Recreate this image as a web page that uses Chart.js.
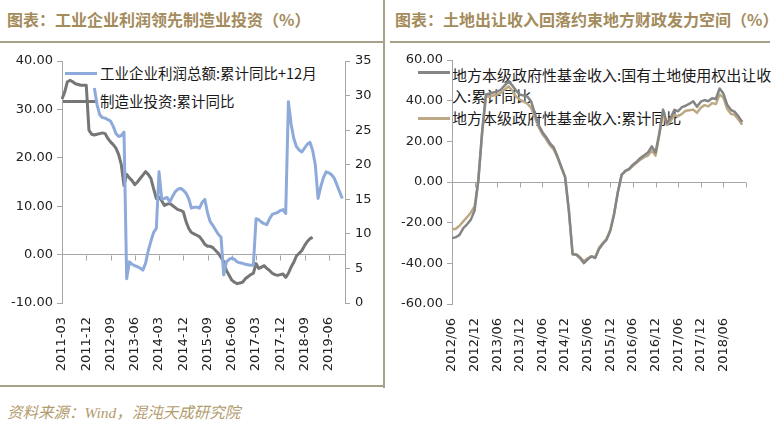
<!DOCTYPE html>
<html>
<head>
<meta charset="utf-8">
<script src="https://cdn.jsdelivr.net/npm/chart.js@4.4.1/dist/chart.umd.min.js"></script>
<style>
  body { margin: 0; background: #fff; width: 774px; height: 426px; overflow: hidden; position: relative;
         font-family: "Noto Sans CJK SC", sans-serif; }
  .title { position: absolute; top: 7px; font-weight: bold; font-size: 16px; color: #a48b5c; white-space: nowrap; }
  .rule { position: absolute; background: #a9a08a; z-index: 3; }
  .legend { position: absolute; color: #1a1a1a; white-space: nowrap; line-height: 1; z-index: 0; }
  .swatch { position: absolute; height: 3px; z-index: 0; }
  .box { position: absolute; z-index: 1; }
  #source { position: absolute; left: 7px; top: 400px; font-size: 15.5px; font-style: italic; color: #b39c6d;
            font-family: "Liberation Serif", "Noto Sans CJK SC", serif; white-space: nowrap; }
</style>
</head>
<body>
<div class="title" style="left:7px">图表：工业企业利润领先制造业投资（%）</div>
<div class="title" style="left:395px">图表：土地出让收入回落约束地方财政发力空间（%）</div>

<div class="rule" style="left:0;top:41px;width:384px;height:2px"></div>
<div class="rule" style="left:390px;top:41px;width:380px;height:2px"></div>
<div class="rule" style="left:383px;top:0;width:2px;height:388px"></div>
<div class="rule" style="left:0;top:385px;width:384px;height:2px"></div>

<div class="swatch" style="left:65px;top:72px;width:32px;background:#8eaadb"></div>
<div class="legend" style="left:100px;top:66px;font-size:14.5px">工业企业利润总额:累计同比+12月</div>
<div class="swatch" style="left:63px;top:100px;width:34px;background:#767676"></div>
<div class="legend" style="left:100px;top:94px;font-size:14.5px">制造业投资:累计同比</div>

<div class="swatch" style="left:418px;top:71px;width:32px;background:#858585"></div>
<div class="legend" style="left:452px;top:64px;font-size:15px;line-height:21px">地方本级政府性基金收入:国有土地使用权出让收<br>入:累计同比</div>
<div class="swatch" style="left:418px;top:117px;width:32px;background:#bca883"></div>
<div class="legend" style="left:452px;top:110px;font-size:15px">地方本级政府性基金收入:累计同比</div>

<div class="box" style="left:0;top:42px;width:384px;height:344px"><canvas id="left" width="384" height="344"></canvas></div>
<div class="box" style="left:385px;top:42px;width:389px;height:344px"><canvas id="right" width="389" height="344"></canvas></div>

<div id="source">资料来源：Wind，混沌天成研究院</div>

<script>
// ---- left chart: monthly 2011-03 .. 2019-12
const leftMonths = [];
for (let y = 2011; y <= 2019; y++) {
  for (let m = 1; m <= 12; m++) {
    if (y === 2011 && m < 3) continue;
    leftMonths.push(y + '-' + String(m).padStart(2, '0'));
  }
}

// 工业企业利润总额:累计同比 shifted +12 months (left axis), 2012-03 .. 2019-11
const profitShifted = [
  null, null, null, null, null, null, null, null, null, null, null, null,
  34.4, 31.0, 28.9, 28.3, 28.2, 27.9, 27.6, 26.5, 25.0, 24.4, 24.6, 25.3,
  -5.0, -1.5, -2.0, -2.3, -2.5, -2.8, -3.2, -1.8, 0.8, 2.8, 4.6, 5.4,
  17.1, 11.5, 11.6, 11.8, 10.9, 12.0, 13.0, 13.5, 13.7, 13.3, 12.7, 11.6,
  9.6, 9.8, 9.8, 9.6, 10.8, 11.4, 8.6, 6.8, 6.0, 5.1, 4.2, 3.6,
  -4.2, -1.5, -1.0, -0.7, -1.0, -1.5, -1.7, -1.8, -2.0, -2.1, -2.2, -2.2,
  7.4, 7.2, 6.7, 6.4, 6.2, 7.4, 8.3, 8.5, 8.7, 9.1, 9.3, 8.5,
  31.6, 27.0, 24.0, 22.3, 21.6, 21.2, 22.0, 22.8, 23.2, 21.5, 18.5, 11.6,
  14.0, 15.9, 17.1, 16.9, 16.5, 15.8, 14.4, 13.0, 11.6, null
];

// 制造业投资:累计同比 (right axis), 2011-03 .. 2018-12
const mfgInvest = [
  29.5, 30.5, 32.0, 32.2, 32.0, 31.7, 31.6, 31.5, 31.5, 31.5,
  25.0, 24.4, 24.3, 24.4, 24.5, 24.6, 24.5, 23.8, 23.3, 22.9, 22.4, 21.5,
  20.0, 17.0, 18.6, 18.1, 17.7, 17.1, 17.5, 18.0, 18.5, 19.0, 18.6, 18.0,
  16.5, 15.1, 15.3, 14.8, 14.1, 14.3, 14.4, 14.1, 13.8, 13.5, 13.4, 13.2,
  11.8, 10.8, 10.2, 10.0, 9.8, 9.6, 9.1, 8.5, 8.2, 8.2, 8.0, 7.6,
  7.2, 6.6, 6.0, 4.7, 4.0, 3.3, 3.0, 2.8, 2.9, 3.0, 3.5, 3.8,
  4.1, 4.3, 5.7, 5.0, 5.2, 5.4, 5.0, 4.7, 4.3, 4.1, 4.0, 4.1,
  4.2, 3.7, 4.3, 5.2, 5.9, 6.8, 7.2, 7.6, 8.3, 8.9, 9.3, 9.5
];

// ---- right chart: monthly 2012/06 .. 2018/12
const rightMonths = [];
for (let y = 2012; y <= 2018; y++) {
  for (let m = 1; m <= 12; m++) {
    if (y === 2012 && m < 6) continue;
    rightMonths.push(y + '/' + String(m).padStart(2, '0'));
  }
}

// 地方本级政府性基金收入:国有土地使用权出让收入:累计同比
const landSales = [
  -27.6, -27.2, -26.0, -22.7, -20.8, -18.5, -14.0, 1.0, 25.0, 43.0, 43.5, 44.0,
  44.5, 45.5, 47.5, 49.5, 47.5, 45.0, 43.0, 42.5, 42.0, 39.6, 33.5, 28.0,
  24.5, 22.0, 19.0, 17.0, 12.5, 7.5, 2.5, -14.0, -35.5, -35.8, -37.5, -39.9,
  -38.0, -36.6, -37.4, -33.0, -30.5, -28.4, -24.0, -16.0, -5.0, 3.5, 5.5, 6.5,
  8.5, 10.0, 11.8, 13.2, 14.5, 17.5, 14.5, 24.0, 35.6, 29.0, 31.5, 35.5,
  34.8, 36.8, 37.5, 38.5, 39.7, 37.0, 39.5, 40.3, 39.7, 41.2, 40.8, 46.0,
  43.5, 38.0, 35.5, 34.5, 32.3, 29.5, null
];

// 地方本级政府性基金收入:累计同比
const fundIncome = [
  -23.4, -23.0, -21.5, -19.4, -17.3, -15.0, -12.0, 1.0, 24.0, 42.0, 42.0, 42.5,
  43.0, 44.0, 45.5, 47.0, 45.0, 42.0, 40.5, 39.5, 38.5, 36.5, 32.0, 27.0,
  23.5, 21.0, 18.0, 16.0, 12.0, 7.0, 2.5, -14.0, -35.5, -35.5, -37.0, -39.0,
  -37.5, -36.5, -37.0, -32.5, -30.0, -28.0, -23.5, -15.5, -5.0, 3.5, 5.3, 6.2,
  8.0, 9.5, 11.0, 12.2, 13.0, 15.5, 13.0, 23.0, 35.0, 28.0, 30.0, 33.0,
  32.3, 33.5, 35.0, 35.3, 35.6, 34.0, 36.5, 37.8, 37.2, 38.8, 38.3, 43.0,
  41.5, 36.0, 33.5, 33.0, 30.7, 28.2, null
];

const axisColor = '#a6a6a6';
const tickFont = { family: 'DejaVu Sans', size: 13 };

// little tick marks on the zero line under each category label
const zeroTicks = {
  id: 'zeroTicks',
  beforeDatasetsDraw(chart) {
    const x = chart.scales.x, y = chart.scales.y;
    const y0 = Math.round(y.getPixelForValue(0)) + 0.5;
    const ctx = chart.ctx;
    ctx.save();
    ctx.strokeStyle = axisColor;
    ctx.lineWidth = 1;
    x.ticks.forEach((t, i) => {
      const px = Math.round(x.getPixelForTick(i)) + 0.5;
      ctx.beginPath();
      ctx.moveTo(px, y0);
      ctx.lineTo(px, y0 + 5);
      ctx.stroke();
    });
    ctx.restore();
  }
};

const fixWidth = (w) => (scale) => { scale.width = w; scale.paddingTop = 0; scale.paddingBottom = 0; };
const fixHeight = (h) => (scale) => { scale.height = h; scale.paddingLeft = 0; scale.paddingRight = 0; };
const zeroGrid = (ctx) => ctx.tick && ctx.tick.value === 0 ? axisColor : 'rgba(0,0,0,0)';

const xAxis = (every, hideLast, h) => ({
  type: 'category',
  offset: false,
  grid: { display: false },
  border: { display: false },
  afterBuildTicks: (scale) => { scale.ticks = scale.ticks.filter((t, i) => i % every === 0); },
  afterFit: fixHeight(h),
  ticks: {
    autoSkip: false, minRotation: 90, maxRotation: 90, padding: 6,
    color: '#222', font: tickFont,
    callback: function (v, i, ticks) {
      if (hideLast && i === ticks.length - 1) return '';
      return this.getLabelForValue(v);
    }
  }
});

new Chart(document.getElementById('left'), {
  type: 'line',
  data: {
    labels: leftMonths,
    datasets: [
      { label: '工业企业利润总额:累计同比+12月', data: profitShifted, yAxisID: 'y',
        borderColor: '#8eaadb', borderWidth: 3 },
      { label: '制造业投资:累计同比', data: mfgInvest, yAxisID: 'y1',
        borderColor: '#767676', borderWidth: 3 }
    ]
  },
  options: {
    responsive: false,
    animation: false,
    layout: { padding: { top: 19, left: 0, right: 0, bottom: 0 } },
    elements: { point: { radius: 0 }, line: { tension: 0, borderJoinStyle: 'round' } },
    plugins: { legend: { display: false }, tooltip: { enabled: false } },
    scales: {
      x: xAxis(9, false, 83),
      y: {
        position: 'left', min: -10, max: 40,
        afterFit: fixWidth(62),
        border: { display: true, color: axisColor },
        grid: { color: zeroGrid, tickColor: axisColor, tickLength: 5 },
        ticks: { stepSize: 10, padding: 4, color: '#222', font: tickFont, callback: (v) => v.toFixed(2) }
      },
      y1: {
        position: 'right', min: 0, max: 35,
        afterFit: fixWidth(39),
        border: { display: true, color: axisColor },
        grid: { drawOnChartArea: false, tickColor: axisColor, tickLength: 5 },
        ticks: { stepSize: 5, padding: 5, color: '#222', font: tickFont }
      }
    }
  },
  plugins: [zeroTicks]
});

new Chart(document.getElementById('right'), {
  type: 'line',
  data: {
    labels: rightMonths,
    datasets: [
      { label: '地方本级政府性基金收入:国有土地使用权出让收入:累计同比', data: landSales,
        borderColor: '#858585', borderWidth: 2.5 },
      { label: '地方本级政府性基金收入:累计同比', data: fundIncome,
        borderColor: '#bca883', borderWidth: 2.5 }
    ]
  },
  options: {
    responsive: false,
    animation: false,
    layout: { padding: { top: 18, left: 0, right: 28, bottom: 0 } },
    elements: { point: { radius: 0 }, line: { tension: 0, borderJoinStyle: 'round' } },
    plugins: { legend: { display: false }, tooltip: { enabled: false } },
    scales: {
      x: xAxis(6, true, 82),
      y: {
        position: 'left', min: -60, max: 60,
        afterFit: fixWidth(67),
        border: { display: true, color: axisColor },
        grid: { color: zeroGrid, tickColor: axisColor, tickLength: 5 },
        ticks: { stepSize: 20, padding: 4, color: '#222', font: tickFont, callback: (v) => v.toFixed(2) }
      }
    }
  },
  plugins: [zeroTicks]
});
</script>
</body>
</html>
